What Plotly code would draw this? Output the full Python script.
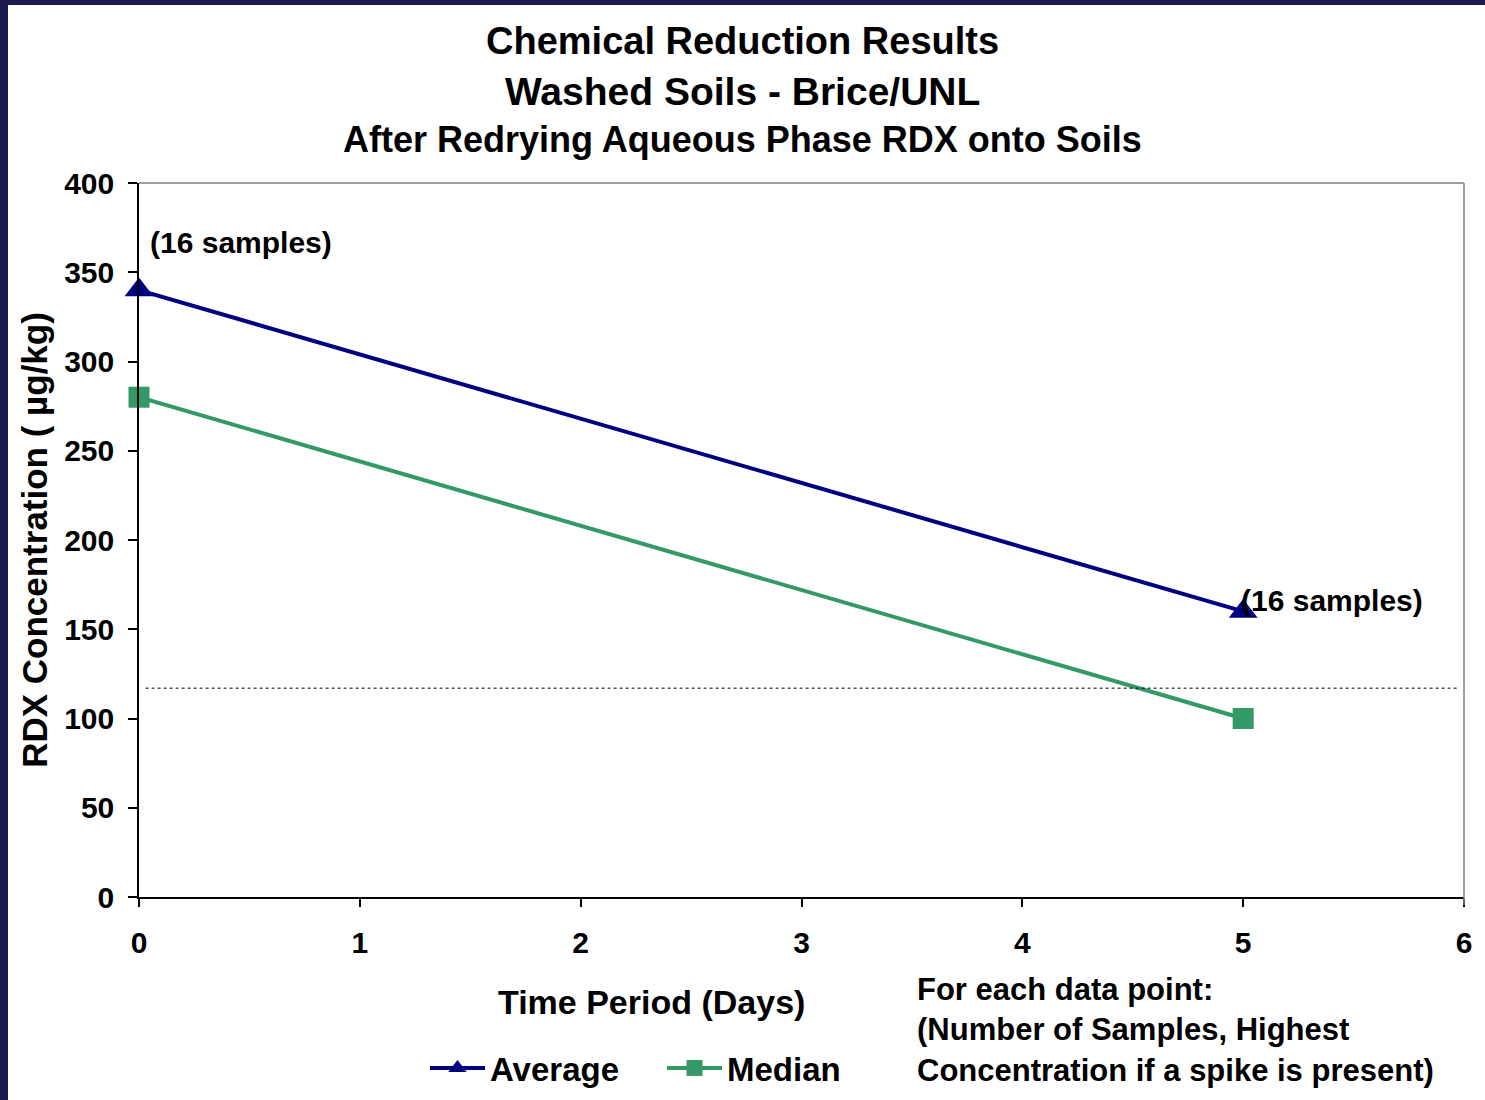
import plotly.graph_objects as go

days = [0, 5]
average = [340, 160]
median = [280, 100]
labels = ["(16 samples)", "(16 samples)"]
ref_level = 117

FONT = "Arial, Liberation Sans, sans-serif"
NAVY = "#000080"
GREEN = "#339966"

L, T, PW, PH = 139, 183, 1325, 714


def px(xp):
    return (xp - L) / PW


def py(yp):
    return (T + PH - yp) / PH


fig = go.Figure()
fig.add_trace(go.Scatter(x=days, y=average, name="Average", mode="lines+markers",
                         line=dict(color=NAVY, width=4), cliponaxis=False,
                         marker=dict(symbol="triangle-up", size=25, color=NAVY)))
fig.add_trace(go.Scatter(x=days, y=median, name="Median", mode="lines+markers",
                         line=dict(color=GREEN, width=4), cliponaxis=False,
                         marker=dict(symbol="square", size=21, color=GREEN)))

# dotted reference line
fig.add_shape(type="line", xref="x", yref="y", x0=0.03, x1=5.97, y0=ref_level, y1=ref_level,
              line=dict(color="black", width=1, dash="dot"))

# data labels
fig.add_annotation(x=days[0], y=average[0], text=labels[0], showarrow=False,
                   xanchor="left", yanchor="middle", xshift=9, yshift=48,
                   font=dict(family=FONT, size=30, color="black", weight="bold"))
fig.add_annotation(x=days[1], y=average[1], text=labels[1], showarrow=False,
                   xanchor="left", yanchor="middle", xshift=-4, yshift=11,
                   font=dict(family=FONT, size=30, color="black", weight="bold"))

# title lines
for txt, yc, sz in [("Chemical Reduction Results", 41, 38),
                    ("Washed Soils - Brice/UNL", 91, 39),
                    ("After Redrying Aqueous Phase RDX onto Soils", 139, 36)]:
    fig.add_annotation(xref="paper", yref="paper", x=px(742), y=py(yc), text=txt,
                       showarrow=False, xanchor="center", yanchor="middle",
                       font=dict(family=FONT, size=sz, color="black", weight="bold"))

# x axis title
fig.add_annotation(xref="paper", yref="paper", x=px(651), y=py(1002), text="Time Period (Days)",
                   showarrow=False, xanchor="center", yanchor="middle",
                   font=dict(family=FONT, size=34, color="black", weight="bold"))

# note
fig.add_annotation(xref="paper", yref="paper", x=px(915), y=py(1030),
                   text="For each data point:<br>(Number of Samples, Highest<br>Concentration if a spike is present)",
                   showarrow=False, xanchor="left", yanchor="middle", align="left",
                   font=dict(family=FONT, size=31, color="black", weight="bold"))

# slide frame strips
fig.add_shape(type="rect", xref="paper", yref="paper",
              x0=px(0), x1=px(8), y0=py(1100), y1=py(0),
              line=dict(width=0), fillcolor="#1a1a4e", layer="above")
fig.add_shape(type="rect", xref="paper", yref="paper",
              x0=px(0), x1=px(1485), y0=py(5), y1=py(0),
              line=dict(width=0), fillcolor="#1a1a4e", layer="above")

# grey top and right border of plot area
fig.add_shape(type="line", xref="paper", yref="paper", x0=0, x1=1, y0=1, y1=1,
              line=dict(color="#808080", width=1.5))
fig.add_shape(type="line", xref="paper", yref="paper", x0=1, x1=1, y0=-8 / PH, y1=1,
              line=dict(color="#808080", width=1.5))

fig.update_layout(
    width=1485, height=1100,
    margin=dict(l=L, r=1485 - L - PW, t=T, b=1100 - T - PH, autoexpand=False),
    paper_bgcolor="white", plot_bgcolor="white",
    font=dict(family=FONT, color="black", weight="bold"),
    showlegend=True,
    legend=dict(orientation="h", x=px(425), y=py(1068),
                xanchor="left", yanchor="middle",
                font=dict(family=FONT, size=33, color="black", weight="bold"),
                itemwidth=55, entrywidth=167, entrywidthmode="pixels",
                bgcolor="rgba(0,0,0,0)"),
    xaxis=dict(range=[0, 6], tickvals=[0, 1, 2, 3, 4, 5, 6], showgrid=False, zeroline=False,
               showline=True, linecolor="black", linewidth=1.5, automargin=False,
               ticks="outside", ticklen=8, tickcolor="black", tickwidth=1.5,
               tickfont=dict(family=FONT, size=30, color="black", weight="bold"),
               ticklabelstandoff=10),
    yaxis=dict(range=[0, 400], tickvals=[0, 50, 100, 150, 200, 250, 300, 350, 400], showgrid=False,
               zeroline=False, showline=True, linecolor="black", linewidth=1.5, automargin=False,
               ticks="outside", ticklen=9, tickcolor="black", tickwidth=1.5,
               tickfont=dict(family=FONT, size=30, color="black", weight="bold"),
               ticklabelstandoff=8,
               title=dict(text="RDX Concentration ( \u00b5g/kg)", standoff=6,
                          font=dict(family=FONT, size=35, color="black", weight="bold"))),
)

fig.write_html("out.html")
